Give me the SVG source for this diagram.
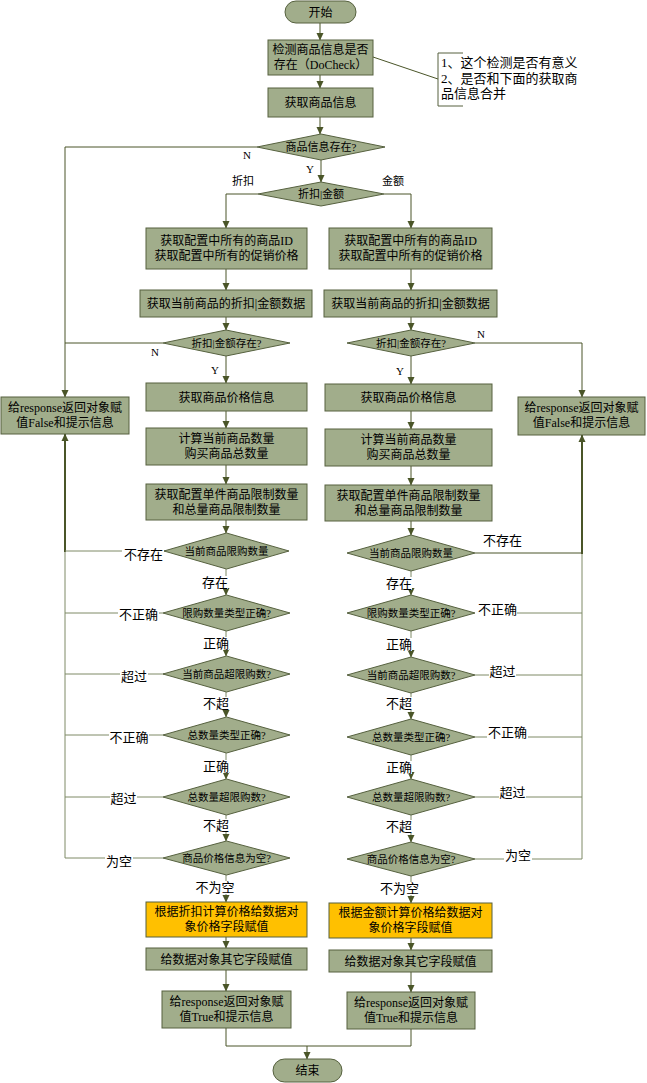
<svg xmlns="http://www.w3.org/2000/svg" width="647" height="1083" viewBox="0 0 647 1083">
<defs>
<marker id="ar" markerUnits="userSpaceOnUse" markerWidth="8" markerHeight="8" viewBox="0 0 8 8" refX="7" refY="4" orient="auto">
<path d="M0,0.5 L7.5,4 L0,7.5 Z" fill="#4A5528"/>
</marker>
</defs>
<style>
text{font-family:"Liberation Serif","Noto Sans CJK SC",serif;fill:#000;text-anchor:middle}
.n{fill:#A1AD8B;stroke:#56613F;stroke-width:1}
.y{fill:#FFC000;stroke:#56613F;stroke-width:1}
.t{font-size:12px}
.d{font-size:10.5px}
.l{font-size:13px}
.s{font-size:11px}
.c{fill:none;stroke:#4A5528;stroke-width:1}
.k{fill:none;stroke:#4A5528;stroke-width:2}
.g{fill:none;stroke:#7F8A66;stroke-width:1}
.a{marker-end:url(#ar)}
</style>
<rect width="647" height="1083" fill="#fff"/>

<g id="connectors">
<path class="c a" d="M320,23 V40"/>
<path class="c a" d="M320,75 V88"/>
<path class="c a" d="M320,117 V134"/>
<path class="c" d="M373,57 L438,79"/>
<path class="c a" d="M321,160 V182"/>
<path class="c a" d="M257,147 H65 V397"/>
<path class="c a" d="M258,194 H226 V228"/>
<path class="c a" d="M384,194 H411 V228"/>
<path class="c a" d="M226,269 V290"/>
<path class="c a" d="M411,269 V290"/>
<path class="c a" d="M226,317 V330"/>
<path class="c a" d="M411,317 V330"/>
<path class="c" d="M163,343 H65"/>
<path class="c a" d="M475,343 H582 V397"/>
<path class="c a" d="M226,356 V383"/>
<path class="c a" d="M411,356 V384"/>
<path class="c a" d="M226,411 V428"/>
<path class="c a" d="M411,411 V429"/>
<path class="c a" d="M226,465 V484"/>
<path class="c a" d="M411,466 V485"/>
<path class="c a" d="M226,520 V533"/>
<path class="c a" d="M411,521 V535"/>
<!-- left chain -->
<path class="g a" d="M226,569 V595"/>
<path class="g a" d="M226,631 V656"/>
<path class="g a" d="M226,692 V717"/>
<path class="g a" d="M226,753 V779"/>
<path class="g a" d="M226,815 V841"/>
<path class="g a" d="M226,875 V902"/>
<!-- right chain -->
<path class="g a" d="M411,571 V595"/>
<path class="g a" d="M411,631 V657"/>
<path class="g a" d="M411,693 V719"/>
<path class="g a" d="M411,755 V779"/>
<path class="g a" d="M411,815 V842"/>
<path class="g a" d="M411,876 V903"/>
<!-- left branches -->
<path class="k a" d="M65,552 V434"/>
<path class="g" d="M65,858 V552"/>
<path class="g" d="M65,551 H122 M164,551 H165"/>
<path class="g" d="M65,613 H118 M159,613 H163"/>
<path class="g" d="M65,674 H120 M148,674 H164"/>
<path class="g" d="M65,735 H109 M149,735 H163"/>
<path class="g" d="M65,797 H110 M137,797 H163"/>
<path class="g" d="M65,858 H105 M133,858 H163"/>
<!-- right branches -->
<path class="k a" d="M582,554 V435"/>
<path class="g" d="M582,859 V554"/>
<path class="c" d="M475,553 H582"/>
<path class="g" d="M517,613 H582"/>
<path class="g" d="M475,675 H489 M516,675 H582"/>
<path class="g" d="M475,737 H487 M528,737 H582"/>
<path class="g" d="M475,797 H499 M526,797 H582"/>
<path class="g" d="M475,859 H504 M532,859 H582"/>
<!-- bottom -->
<path class="c a" d="M226,937 V948"/>
<path class="c a" d="M411,938 V950"/>
<path class="c a" d="M226,970 V991"/>
<path class="c a" d="M411,972 V992"/>
<path class="c" d="M226,1028 V1046 H411 V1029"/>
<path class="c a" d="M307,1046 V1059"/>
</g>

<g id="start"><rect class="n" x="285" y="1" width="71" height="22" rx="11"/><text class="t" x="320.5" y="16.5">开始</text></g>
<g id="check"><rect class="n" x="268" y="40" width="105" height="35"/><text class="t" x="320.5" y="54">检测商品信息是否</text><text class="t" x="320.5" y="69">存在（DoCheck）</text></g>
<g id="note"><path fill="none" stroke="#56613F" d="M463,53 H438 V106 H463"/>
<text class="l" style="text-anchor:start" x="441" y="67">1、这个检测是否有意义</text>
<text class="l" style="text-anchor:start" x="441" y="83">2、是否和下面的获取商</text>
<text class="l" style="text-anchor:start" x="441" y="98">品信息合并</text></g>
<g id="getinfo"><rect class="n" x="268" y="88" width="105" height="29"/><text class="t" x="320.5" y="107">获取商品信息</text></g>
<g id="exists"><polygon class="n" points="257,147 321,134 385,147 321,160"/><text class="s" x="321" y="151">商品信息存在?</text></g>
<g id="type"><polygon class="n" points="258,194 321,182 384,194 321,206"/><text class="s" x="321" y="198">折扣|金额</text></g>

<g id="labels-top">
<text class="s" x="247" y="159">N</text>
<text class="s" x="310" y="173">Y</text>
<text class="s" x="243" y="185">折扣</text>
<text class="s" x="393" y="185">金额</text>
<text class="s" x="155" y="356">N</text>
<text class="s" x="215" y="374">Y</text>
<text class="s" x="481" y="338">N</text>
<text class="s" x="400" y="375">Y</text>
</g>

<g id="L1"><rect class="n" x="146" y="228" width="161" height="41"/><text class="t" x="226.5" y="245">获取配置中所有的商品ID</text><text class="t" x="226.5" y="260">获取配置中所有的促销价格</text></g>
<g id="R1"><rect class="n" x="329" y="228" width="163" height="41"/><text class="t" x="410.5" y="245">获取配置中所有的商品ID</text><text class="t" x="410.5" y="260">获取配置中所有的促销价格</text></g>
<g id="L2"><rect class="n" x="140" y="290" width="172" height="27"/><text class="t" x="226" y="308">获取当前商品的折扣|金额数据</text></g>
<g id="R2"><rect class="n" x="324" y="290" width="173" height="27"/><text class="t" x="410.5" y="308">获取当前商品的折扣|金额数据</text></g>
<g id="L3"><polygon class="n" points="163,343 226,330 290,343 226,356"/><text class="d" x="226.5" y="347">折扣|金额存在?</text></g>
<g id="R3"><polygon class="n" points="347,343 411,330 475,343 411,356"/><text class="d" x="411" y="347">折扣|金额存在?</text></g>
<g id="LF"><rect class="n" x="1" y="397" width="128" height="37"/><text class="t" x="65" y="412">给response返回对象赋</text><text class="t" x="65" y="427">值False和提示信息</text></g>
<g id="RF"><rect class="n" x="518" y="397" width="127" height="38"/><text class="t" x="581.5" y="412">给response返回对象赋</text><text class="t" x="581.5" y="427">值False和提示信息</text></g>
<g id="L4"><rect class="n" x="146" y="383" width="161" height="28"/><text class="t" x="226.5" y="401.5">获取商品价格信息</text></g>
<g id="R4"><rect class="n" x="325" y="384" width="167" height="27"/><text class="t" x="408.5" y="402">获取商品价格信息</text></g>
<g id="L5"><rect class="n" x="146" y="428" width="161" height="37"/><text class="t" x="226.5" y="443">计算当前商品数量</text><text class="t" x="226.5" y="458">购买商品总数量</text></g>
<g id="R5"><rect class="n" x="325" y="429" width="167" height="37"/><text class="t" x="408.5" y="444">计算当前商品数量</text><text class="t" x="408.5" y="459">购买商品总数量</text></g>
<g id="L6"><rect class="n" x="146" y="484" width="161" height="36"/><text class="t" x="226.5" y="499">获取配置单件商品限制数量</text><text class="t" x="226.5" y="514">和总量商品限制数量</text></g>
<g id="R6"><rect class="n" x="325" y="485" width="167" height="36"/><text class="t" x="408.5" y="500">获取配置单件商品限制数量</text><text class="t" x="408.5" y="515">和总量商品限制数量</text></g>

<g id="LD1"><polygon class="n" points="164,551 226.5,533 289,551 226.5,569"/><text class="d" x="226.5" y="555">当前商品限购数量</text></g>
<g id="LD2"><polygon class="n" points="163,613 226.5,595 290,613 226.5,631"/><text class="d" x="226.5" y="617">限购数量类型正确?</text></g>
<g id="LD3"><polygon class="n" points="163,674 226.5,656 290,674 226.5,692"/><text class="d" x="226.5" y="678">当前商品超限购数?</text></g>
<g id="LD4"><polygon class="n" points="163,735 226.5,717 290,735 226.5,753"/><text class="d" x="226.5" y="739">总数量类型正确?</text></g>
<g id="LD5"><polygon class="n" points="163,797 226.5,779 290,797 226.5,815"/><text class="d" x="226.5" y="801">总数量超限购数?</text></g>
<g id="LD6"><polygon class="n" points="163,858 226.5,841 290,858 226.5,875"/><text class="d" x="226.5" y="862">商品价格信息为空?</text></g>

<g id="RD1"><polygon class="n" points="347,553 411,535 475,553 411,571"/><text class="d" x="411" y="557">当前商品限购数量</text></g>
<g id="RD2"><polygon class="n" points="347,613 411,595 475,613 411,631"/><text class="d" x="411" y="617">限购数量类型正确?</text></g>
<g id="RD3"><polygon class="n" points="347,675 411,657 475,675 411,693"/><text class="d" x="411" y="679">当前商品超限购数?</text></g>
<g id="RD4"><polygon class="n" points="347,737 411,719 475,737 411,755"/><text class="d" x="411" y="741">总数量类型正确?</text></g>
<g id="RD5"><polygon class="n" points="347,797 411,779 475,797 411,815"/><text class="d" x="411" y="801">总数量超限购数?</text></g>
<g id="RD6"><polygon class="n" points="347,859 411,842 475,859 411,876"/><text class="d" x="411" y="863">商品价格信息为空?</text></g>

<g id="labels-left">
<text class="l" x="143.5" y="559">不存在</text>
<rect x="203" y="576" width="25" height="13" fill="#fff"/><text class="l" x="215" y="587">存在</text>
<text class="l" x="138.5" y="619">不正确</text>
<rect x="204" y="637" width="25" height="13" fill="#fff"/><text class="l" x="216" y="648">正确</text>
<text class="l" x="134" y="681">超过</text>
<rect x="204" y="697" width="25" height="13" fill="#fff"/><text class="l" x="216" y="708">不超</text>
<text class="l" x="129" y="742">不正确</text>
<rect x="204" y="760" width="25" height="13" fill="#fff"/><text class="l" x="216" y="771">正确</text>
<text class="l" x="123.5" y="803">超过</text>
<rect x="204" y="819" width="25" height="13" fill="#fff"/><text class="l" x="216" y="830">不超</text>
<text class="l" x="119" y="866">为空</text>
<rect x="196" y="881" width="38" height="13" fill="#fff"/><text class="l" x="215" y="892">不为空</text>
</g>
<g id="labels-right">
<text class="l" x="502.5" y="545">不存在</text>
<rect x="387" y="577" width="25" height="13" fill="#fff"/><text class="l" x="399" y="588">存在</text>
<text class="l" x="497.5" y="614">不正确</text>
<rect x="387" y="638" width="25" height="13" fill="#fff"/><text class="l" x="399" y="649">正确</text>
<text class="l" x="502.5" y="676">超过</text>
<rect x="387" y="697" width="25" height="13" fill="#fff"/><text class="l" x="399" y="708">不超</text>
<text class="l" x="507.5" y="737">不正确</text>
<rect x="387" y="761" width="25" height="13" fill="#fff"/><text class="l" x="399" y="772">正确</text>
<text class="l" x="512.5" y="797">超过</text>
<rect x="387" y="820" width="25" height="13" fill="#fff"/><text class="l" x="399" y="831">不超</text>
<text class="l" x="518" y="860">为空</text>
<rect x="380" y="882" width="39" height="13" fill="#fff"/><text class="l" x="399.5" y="893">不为空</text>
</g>

<g id="LY"><rect class="y" x="146" y="902" width="161" height="35"/><text class="t" x="226.5" y="916">根据折扣计算价格给数据对</text><text class="t" x="226.5" y="931">象价格字段赋值</text></g>
<g id="RY"><rect class="y" x="329" y="903" width="163" height="35"/><text class="t" x="410.5" y="917">根据金额计算价格给数据对</text><text class="t" x="410.5" y="932">象价格字段赋值</text></g>
<g id="L7"><rect class="n" x="146" y="948" width="161" height="22"/><text class="t" x="226.5" y="963.5">给数据对象其它字段赋值</text></g>
<g id="R7"><rect class="n" x="329" y="950" width="163" height="22"/><text class="t" x="410.5" y="965.5">给数据对象其它字段赋值</text></g>
<g id="L8"><rect class="n" x="162" y="991" width="129" height="37"/><text class="t" x="226.5" y="1006">给response返回对象赋</text><text class="t" x="226.5" y="1021">值True和提示信息</text></g>
<g id="R8"><rect class="n" x="347" y="992" width="128" height="37"/><text class="t" x="411" y="1007">给response返回对象赋</text><text class="t" x="411" y="1022">值True和提示信息</text></g>
<g id="end"><rect class="n" x="273" y="1059" width="69" height="23" rx="11.5"/><text class="t" x="307.5" y="1075">结束</text></g>
</svg>
